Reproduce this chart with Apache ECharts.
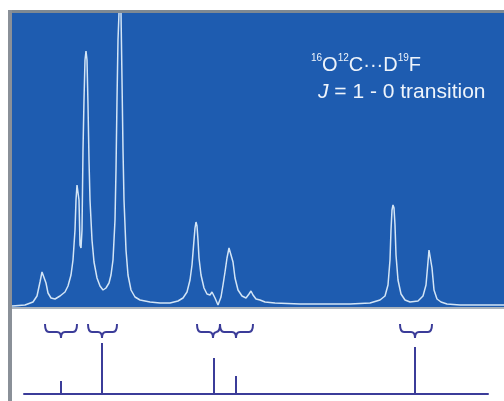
<!DOCTYPE html>
<html>
<head>
<meta charset="utf-8">
<script src="https://cdn.jsdelivr.net/npm/echarts@6/dist/echarts.min.js"></script>
<style>
  html, body { margin: 0; padding: 0; background: #fff; }
  #main { width: 504px; height: 401px; }
</style>
</head>
<body>
<div id="main"></div>
<script>
// spectrum trace, x position and intensity
var traceX = [12, 25, 33, 37, 40, 42, 43, 44, 46, 48, 51, 55, 60, 65, 68, 71, 73, 75, 76, 77, 78, 79, 80, 81, 82, 83, 84, 85, 86, 87, 88, 89, 90, 92, 94, 97, 100, 103, 106, 109, 111, 113, 115, 116, 117, 118, 119, 120, 121, 122, 123, 124, 126, 128, 131, 135, 140, 150, 160, 170, 178, 183, 187, 190, 192, 194, 195, 196, 197, 198, 199, 201, 204, 207, 210, 212, 213, 215, 218, 221, 223, 225, 227, 229, 230, 231, 233, 235, 238, 242, 246, 249, 251, 253, 256, 260, 265, 275, 300, 350, 370, 380, 385, 388, 390, 391, 392, 393, 394, 395, 396, 398, 401, 405, 410, 418, 423, 426, 428, 429, 430, 431, 432, 434, 437, 441, 447, 460, 504];
var traceY = [1, 2, 5, 11, 25, 35, 37, 36, 24, 14, 9, 8, 11, 15, 21, 32, 47, 77, 107, 122, 124, 107, 62, 59, 77, 157, 207, 247, 256, 247, 202, 147, 107, 67, 45, 29, 21, 17, 19, 24, 32, 47, 87, 137, 207, 267, 294, 310, 294, 227, 157, 107, 57, 32, 17, 10, 7, 5, 4, 4, 6, 9, 15, 27, 42, 67, 79, 85, 81, 67, 49, 32, 19, 13, 12, 15, 16, 9, 2, 10, 22, 35, 49, 59, 60, 57, 45, 29, 17, 11, 9, 13, 16, 12, 8, 7, 5, 4, 3, 3, 4, 7, 11, 22, 47, 77, 97, 102, 99, 82, 52, 27, 13, 7, 5, 6, 11, 22, 45, 57, 59, 55, 39, 17, 8, 5, 3, 2, 2];

// stick spectrum
var stickX = [61, 102, 214, 236, 415];
var stickH = [13, 51, 36, 18, 47];

// braces: start, end, tip
var braceStart = [45, 88, 197, 220, 400];
var braceEnd = [77, 117, 220, 253, 432];
var braceTip = [61, 102, 213, 236, 415];

var lineData = traceX.map(function (x, i) { return [x, traceY[i]]; });
var stickData = stickX.map(function (x, i) { return [x, stickH[i]]; });
var braceData = braceStart.map(function (s, i) { return [s, braceEnd[i], braceTip[i]]; });

var stickColor = '#3b3c99';

function renderBrace(params, api) {
  var a = api.coord([api.value(0), 70]);
  var b = api.coord([api.value(1), 70]);
  var t = api.coord([api.value(2), 62]);
  var tip = api.coord([api.value(2), 56]);
  var yE = a[1], yM = t[1], yT = tip[1];
  var r = 4;
  var p = 'M' + a[0] + ' ' + yE +
    ' Q' + a[0] + ' ' + yM + ' ' + (a[0] + r) + ' ' + yM +
    ' L' + (t[0] - r) + ' ' + yM +
    ' Q' + t[0] + ' ' + yM + ' ' + t[0] + ' ' + yT +
    ' Q' + t[0] + ' ' + yM + ' ' + (t[0] + r) + ' ' + yM +
    ' L' + (b[0] - r) + ' ' + yM +
    ' Q' + b[0] + ' ' + yM + ' ' + b[0] + ' ' + yE;
  return {
    type: 'path',
    shape: { pathData: p },
    style: { fill: null, stroke: stickColor, lineWidth: 2 }
  };
}

var chart = echarts.init(document.getElementById('main'));
var option = {
  backgroundColor: '#fff',
  animation: false,
  grid: [
    { left: 12, top: 13, width: 492, height: 294, show: true, backgroundColor: '#1e5cb0', borderWidth: 0 },
    { left: 24, top: 314, width: 464, height: 80 }
  ],
  xAxis: [
    { type: 'value', gridIndex: 0, min: 12, max: 504, show: false },
    { type: 'value', gridIndex: 1, min: 24, max: 488,
      axisLine: { show: true, onZero: false, lineStyle: { color: stickColor, width: 2 } },
      axisTick: { show: false }, axisLabel: { show: false }, splitLine: { show: false } }
  ],
  yAxis: [
    { type: 'value', gridIndex: 0, min: 0, max: 294, show: false },
    { type: 'value', gridIndex: 1, min: 0, max: 80, show: false }
  ],
  graphic: [
    { type: 'rect', shape: { x: 8, y: 10, width: 496, height: 3 }, style: { fill: '#7e8993' }, z: 10 },
    { type: 'rect', shape: { x: 8, y: 10, width: 4, height: 391 }, style: { fill: '#8a9098' }, z: 10 },
    { type: 'rect', shape: { x: 12, y: 307, width: 492, height: 2 }, style: { fill: '#a9b3bd' }, z: 10 },
    {
      type: 'text', left: 311, top: 53, z: 10,
      style: {
        text: '{s|16}{b|O}{s|12}{b|C···D}{s|19}{b|F}',
        fill: '#eef4fb',
        rich: {
          s: { fontSize: 10, fontFamily: 'Liberation Sans', fill: '#eef4fb', verticalAlign: 'top', lineHeight: 24 },
          b: { fontSize: 20, fontFamily: 'Liberation Sans', fill: '#eef4fb', lineHeight: 24 }
        }
      }
    },
    {
      type: 'text', left: 318, top: 82, z: 10,
      style: {
        text: '{i|J} = 1 - 0 transition',
        fill: '#eef4fb',
        font: '21px "Liberation Sans"',
        rich: {
          i: { fontSize: 21, fontStyle: 'italic', fontFamily: 'Liberation Sans', fill: '#eef4fb' }
        }
      }
    }
  ],
  series: [
    {
      type: 'line', xAxisIndex: 0, yAxisIndex: 0,
      data: lineData, showSymbol: false, clip: true,
      lineStyle: { color: '#d3e5f6', width: 1.5 }
    },
    {
      type: 'bar', xAxisIndex: 1, yAxisIndex: 1,
      data: stickData, barWidth: 2,
      itemStyle: { color: stickColor }
    },
    {
      type: 'custom', xAxisIndex: 1, yAxisIndex: 1,
      data: braceData, renderItem: renderBrace, clip: false
    }
  ]
};
chart.setOption(option);
</script>
</body>
</html>
